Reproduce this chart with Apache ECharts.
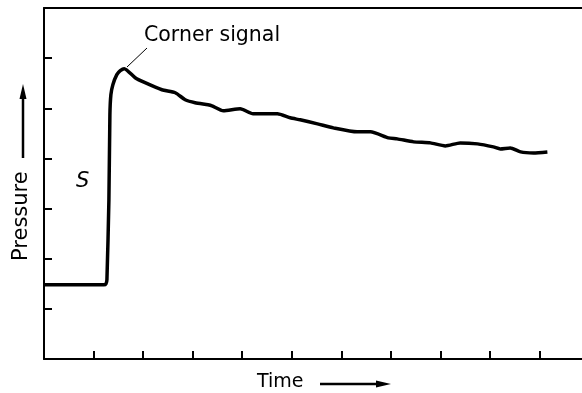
<!DOCTYPE html>
<html>
<head>
<meta charset="utf-8">
<title>Pressure vs time</title>
<script src="https://cdn.jsdelivr.net/npm/echarts@6/dist/echarts.min.js"></script>
<style>
    html, body { margin: 0; padding: 0; background: #fff; overflow: hidden; }
    /* a bit wider than the window: the frame runs off the right edge */
    #chart { width: 589px; height: 393px; }
</style>
</head>
<body>
<div id="chart"></div>
<script>
    // trace (time in tick units, pressure in tick units)
    const timeValues = [0, 1.21, 1.25, 1.27, 1.31, 1.33, 1.35, 1.39, 1.47, 1.54, 1.62,
        1.84, 2.04, 2.38, 2.65, 2.85, 3.05, 3.31, 3.39, 3.62, 3.96, 4.22, 4.71, 4.97,
        5.17, 5.52, 5.84, 6.32, 6.59, 6.95, 7.13, 7.46, 7.80, 8.10, 8.40, 8.75, 9.07,
        9.21, 9.41, 9.62, 9.88, 10.16];
    const pressureValues = [1.48, 1.48, 1.50, 1.58, 3.17, 4.87, 5.27, 5.47, 5.67, 5.75, 5.79,
        5.61, 5.51, 5.37, 5.31, 5.17, 5.11, 5.07, 5.05, 4.95, 4.99, 4.89, 4.89, 4.81,
        4.77, 4.69, 4.61, 4.53, 4.53, 4.41, 4.39, 4.33, 4.31, 4.25, 4.31, 4.29, 4.23,
        4.19, 4.21, 4.13, 4.11, 4.13];
    const xTicks = [0, 1, 2, 3, 4, 5, 6, 7, 8, 9, 10, 11];
    const yTicks = [0, 1, 2, 3, 4, 5, 6, 7];

    const chart = echarts.init(document.getElementById('chart'));
    const font = 'DejaVu Sans';
    const ink = '#000';

    const option = {
        animation: false,
        grid: { left: 44, top: 8, right: 0, bottom: 34, show: false },
        xAxis: [{
            type: 'value',
            min: xTicks[0], max: xTicks[xTicks.length - 1], interval: 1,
            axisLine: { lineStyle: { color: ink, width: 2 } },
            axisTick: { inside: true, length: 8, lineStyle: { color: ink, width: 2 } },
            axisLabel: { show: false },
            splitLine: { show: false }
        }, {
            // top frame line only
            type: 'value', position: 'top',
            min: xTicks[0], max: xTicks[xTicks.length - 1],
            axisLine: { show: true, lineStyle: { color: ink, width: 2 } },
            axisTick: { show: false },
            axisLabel: { show: false },
            splitLine: { show: false }
        }],
        yAxis: {
            type: 'value',
            min: yTicks[0], max: yTicks[yTicks.length - 1], interval: 1,
            axisLine: { show: true, lineStyle: { color: ink, width: 2 } },
            axisTick: { show: true, inside: true, length: 8, lineStyle: { color: ink, width: 2 } },
            axisLabel: { show: false },
            splitLine: { show: false }
        },
        series: [{
            type: 'line',
            data: timeValues.map((t, i) => [t, pressureValues[i]]),
            showSymbol: false,
            smooth: 0.2,
            lineStyle: { color: ink, width: 3.5 }
        }],
        graphic: [
            // leader for the corner signal
            { type: 'line', shape: { x1: 127, y1: 67, x2: 147, y2: 48 }, style: { stroke: ink, lineWidth: 1 } },
            { type: 'text', left: 144, top: 25, style: { text: 'Corner signal', font: '20.5px ' + font, fill: ink } },
            { type: 'text', left: 76, top: 171, style: { text: 'S', font: 'italic 21px ' + font, fill: ink } },
            // pressure label with arrow
            { type: 'text', x: 11, y: 261, rotation: Math.PI / 2,
              style: { text: 'Pressure', font: '21px ' + font, fill: ink } },
            { type: 'line', shape: { x1: 23, y1: 158, x2: 23, y2: 95 }, style: { stroke: ink, lineWidth: 2.5 } },
            { type: 'polygon', shape: { points: [[23, 84], [19.5, 99], [26.5, 99]] }, style: { fill: ink } },
            // time label with arrow
            { type: 'text', left: 257, top: 373, style: { text: 'Time', font: '19px ' + font, fill: ink } },
            { type: 'line', shape: { x1: 320, y1: 384, x2: 380, y2: 384 }, style: { stroke: ink, lineWidth: 2.5 } },
            { type: 'polygon', shape: { points: [[391, 384], [376, 380.5], [376, 387.5]] }, style: { fill: ink } }
        ]
    };
    chart.setOption(option);
</script>
</body>
</html>
